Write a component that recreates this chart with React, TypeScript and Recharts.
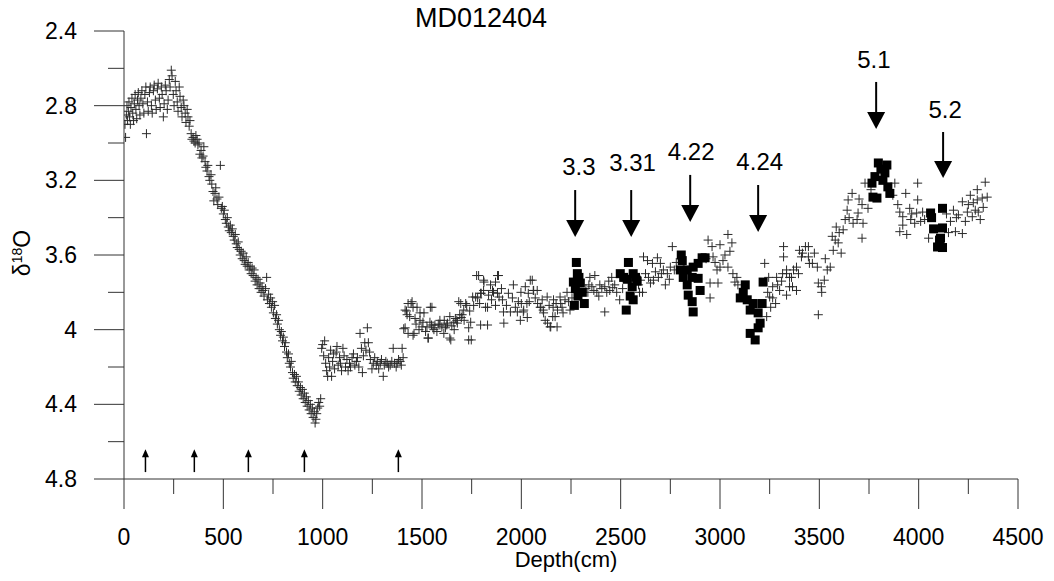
import { ScatterChart, Scatter, XAxis, YAxis, ReferenceLine } from "recharts";

// depth (cm), d18O
const crossTop = [
  [5, 2.9], [8, 2.97], [12, 2.85], [15, 2.8], [18, 2.88], [22, 2.83], [25, 2.78], [28, 2.86], [32, 2.9], [35, 2.81],
  [40, 2.76], [44, 2.84], [48, 2.88], [52, 2.79], [56, 2.74], [60, 2.82], [64, 2.87], [68, 2.77], [72, 2.73], [76, 2.8],
  [80, 2.85], [85, 2.76], [90, 2.72], [95, 2.79], [100, 2.84], [105, 2.74], [110, 2.7], [113, 2.95], [118, 2.78], [122, 2.83],
  [128, 2.73], [132, 2.7], [138, 2.8], [142, 2.84], [148, 2.72], [152, 2.69], [158, 2.77], [162, 2.82], [168, 2.71], [172, 2.68],
  [178, 2.76], [182, 2.81], [188, 2.7], [192, 2.74], [198, 2.86], [202, 2.79], [208, 2.69], [212, 2.72], [218, 2.82], [222, 2.77],
  [228, 2.66], [232, 2.7], [238, 2.61], [242, 2.64], [248, 2.74], [252, 2.8], [258, 2.67], [262, 2.72], [268, 2.78], [272, 2.83],
  [278, 2.7], [282, 2.75], [288, 2.81], [292, 2.86], [298, 2.77], [302, 2.8], [308, 2.84], [312, 2.89], [318, 2.82], [322, 2.86],
  [328, 2.91], [332, 2.88], [338, 2.95], [342, 2.98], [348, 2.97], [352, 2.99], [358, 3.0], [362, 2.96], [368, 2.98], [372, 3.01],
  [378, 3.0],
];

const crossDrop = [
  [382, 3.06], [388, 3.04], [392, 3.08], [398, 3.07], [402, 3.02], [408, 3.1], [412, 3.13], [418, 3.15], [422, 3.12], [428, 3.18],
  [432, 3.2], [438, 3.17], [442, 3.22], [448, 3.26], [452, 3.31], [458, 3.27], [462, 3.24], [468, 3.3], [472, 3.33], [478, 3.29],
  [485, 3.12], [490, 3.35], [495, 3.34], [500, 3.38], [505, 3.36], [510, 3.41], [515, 3.43], [520, 3.4], [525, 3.45], [530, 3.47],
  [535, 3.44], [540, 3.48], [545, 3.46], [550, 3.5], [555, 3.52], [560, 3.49], [565, 3.54], [570, 3.56], [575, 3.53], [580, 3.57],
  [585, 3.6], [590, 3.58], [595, 3.62], [600, 3.59], [605, 3.63], [610, 3.65], [615, 3.61], [620, 3.66], [625, 3.64], [630, 3.68],
  [635, 3.66], [640, 3.7], [645, 3.67], [650, 3.71], [655, 3.68], [660, 3.74], [665, 3.72], [670, 3.76], [675, 3.73], [680, 3.78],
  [685, 3.75], [690, 3.8], [695, 3.77], [700, 3.79], [705, 3.82], [712, 3.78], [718, 3.72], [722, 3.84], [728, 3.81], [732, 3.86],
  [738, 3.83], [742, 3.88], [748, 3.85], [752, 3.91], [758, 3.87], [762, 3.94], [768, 3.92], [772, 3.97], [778, 3.95], [782, 4.0],
  [788, 4.03], [792, 4.01], [798, 4.06], [802, 4.04], [808, 4.09], [812, 4.07], [818, 4.12], [822, 4.15], [828, 4.13], [832, 4.18],
  [838, 4.2], [842, 4.17], [848, 4.23], [852, 4.26], [858, 4.24], [862, 4.28], [868, 4.25], [872, 4.3], [878, 4.28], [882, 4.33],
  [888, 4.31], [892, 4.35], [898, 4.32], [902, 4.37], [908, 4.34], [912, 4.39], [918, 4.36], [922, 4.41], [928, 4.38], [932, 4.43],
  [938, 4.4], [942, 4.45], [948, 4.42], [952, 4.47], [958, 4.44], [962, 4.5], [966, 4.48], [970, 4.45], [975, 4.42], [980, 4.39],
  [985, 4.41], [990, 4.37],
];

const crossTrough = [
  [995, 4.1], [1000, 4.08], [1005, 4.14], [1010, 4.06], [1015, 4.18], [1020, 4.22], [1025, 4.25], [1030, 4.15], [1035, 4.2], [1040, 4.11],
  [1045, 4.25], [1050, 4.17], [1055, 4.13], [1060, 4.21], [1068, 4.12], [1072, 4.09], [1078, 4.19], [1085, 4.15], [1090, 4.18], [1095, 4.22],
  [1102, 4.1], [1108, 4.14], [1115, 4.2], [1122, 4.16], [1128, 4.22], [1135, 4.18], [1140, 4.2], [1148, 4.15], [1155, 4.13], [1162, 4.19],
  [1170, 4.17], [1175, 4.15], [1182, 4.2], [1188, 4.02], [1195, 4.1], [1200, 4.23], [1205, 4.14], [1212, 4.07], [1218, 4.11], [1225, 3.99],
  [1230, 4.07], [1236, 4.12], [1240, 4.16], [1248, 4.21], [1255, 4.18], [1262, 4.15], [1270, 4.19], [1275, 4.17], [1282, 4.21], [1290, 4.18],
  [1296, 4.16], [1305, 4.25], [1310, 4.19], [1318, 4.17], [1325, 4.18], [1332, 4.2], [1340, 4.19], [1348, 4.17], [1355, 4.1], [1362, 4.18],
  [1370, 4.2], [1375, 4.18], [1382, 4.16], [1390, 4.17], [1396, 4.19], [1400, 4.1], [1405, 4.15],
];

const crossMid = [
  [1415, 3.895], [1425, 3.92], [1430, 3.86], [1450, 3.85], [1455, 3.88], [1415, 3.99], [1430, 4.02], [1455, 4.03], [1475, 3.88], [1490, 3.91],
  [1465, 3.94], [1500, 3.985], [1525, 3.985], [1530, 4.045], [1550, 3.88], [1540, 3.96], [1565, 3.975], [1575, 4.01], [1590, 3.95], [1600, 3.985],
  [1610, 4.02], [1625, 3.975], [1640, 4.045], [1640, 3.93], [1660, 3.96], [1675, 3.95], [1685, 3.85], [1690, 3.92], [1710, 3.895], [1720, 3.86],
  [1735, 4.055], [1745, 3.96], [1755, 3.825], [1780, 3.83], [1795, 3.805], [1795, 3.975], [1810, 3.79], [1830, 3.88], [1810, 3.735], [1835, 3.815],
  [1855, 3.79], [1870, 3.745], [1880, 3.805], [1885, 3.71], [1785, 3.71],
  [1422, 3.9], [1438, 3.93], [1408, 3.995], [1460, 4.02], [1445, 3.86], [1490, 3.95], [1510, 3.91], [1542, 3.88], [1548, 3.975], [1560, 4.0],
  [1532, 4.045], [1590, 3.975], [1612, 3.95], [1628, 3.965], [1645, 4.055], [1662, 4.0], [1678, 3.965], [1695, 3.86], [1712, 3.95], [1698, 3.935],
  [1725, 3.87], [1735, 3.99], [1748, 4.055], [1770, 3.825], [1775, 3.71], [1798, 3.805], [1812, 3.745], [1820, 3.88], [1830, 3.975], [1845, 3.76],
  [1860, 3.8], [1880, 3.71], [1888, 3.825], [1905, 3.84], [1910, 3.905], [1912, 3.965], [1935, 3.805], [1945, 3.905], [1960, 3.76], [1980, 3.905],
  [1985, 3.85], [1995, 3.95], [2010, 3.905], [2030, 3.935], [2035, 3.805], [2055, 3.735], [2060, 3.79], [2080, 3.79], [2095, 3.88], [2110, 3.895],
  [2120, 3.95], [2130, 3.825], [2145, 3.985], [2160, 3.88], [2170, 3.93], [2180, 3.985], [2195, 3.825],
  [1998, 3.8], [2020, 3.77], [2045, 3.735], [2062, 3.79], [2012, 3.895], [2028, 3.86], [2082, 3.86], [2098, 3.88], [2112, 3.91], [2132, 3.965],
  [2148, 3.985], [2162, 3.84], [2182, 3.895], [2158, 3.93], [2198, 3.86], [2220, 3.84], [2230, 3.8], [2245, 3.895], [2210, 3.91],
  [1470, 3.97], [1485, 4.0], [1505, 3.96], [1518, 4.01], [1555, 3.99], [1582, 3.97], [1618, 3.99], [1650, 3.98], [1668, 3.94], [1702, 3.92],
  [1740, 3.9], [1760, 3.87], [1790, 3.86], [1850, 3.84], [1870, 3.87], [1900, 3.78], [1925, 3.87], [1955, 3.83], [1970, 3.88], [2000, 3.86],
  [2040, 3.85], [2070, 3.83], [2105, 3.84], [2140, 3.87], [2175, 3.86], [2205, 3.88], [2238, 3.85],
];

const crossStage4 = [
  [2255, 3.83], [2300, 3.8], [2325, 3.78], [2335, 3.8], [2345, 3.72], [2355, 3.77], [2370, 3.71], [2380, 3.8], [2395, 3.76], [2420, 3.77],
  [2420, 3.905], [2430, 3.8], [2455, 3.72], [2460, 3.775], [2480, 3.8], [2495, 3.84], [2340, 3.76], [2365, 3.79], [2405, 3.78], [2440, 3.74],
  [2470, 3.76], [2390, 3.82], [2445, 3.79], [2510, 3.78], [2590, 3.76], [2595, 3.8],
  [2600, 3.735], [2610, 3.8], [2615, 3.61], [2625, 3.7], [2635, 3.63], [2650, 3.75], [2660, 3.645], [2665, 3.735], [2685, 3.615], [2690, 3.72],
  [2700, 3.645], [2715, 3.68], [2725, 3.76], [2735, 3.7], [2750, 3.665], [2760, 3.555], [2640, 3.72], [2675, 3.69], [2705, 3.7], [2745, 3.73],
  [2770, 3.68], [2780, 3.64],
  [2940, 3.52], [2950, 3.75], [2950, 3.83], [2960, 3.555], [2965, 3.61], [2985, 3.68], [2990, 3.75], [3000, 3.545], [3000, 3.665], [3015, 3.63],
  [3040, 3.49], [3040, 3.665], [3060, 3.535], [3065, 3.7], [3075, 3.745], [3085, 3.72], [2930, 3.62], [2975, 3.64], [3025, 3.6], [3050, 3.58],
  [3090, 3.76],
  [3225, 3.645], [3235, 3.93], [3245, 3.72], [3250, 3.825], [3255, 3.88], [3265, 3.77], [3265, 3.83], [3280, 3.86], [3285, 3.72], [3300, 3.79],
  [3320, 3.555], [3320, 3.61], [3335, 3.7], [3335, 3.815], [3350, 3.77], [3370, 3.68], [3385, 3.665], [3400, 3.575], [3415, 3.59], [3430, 3.555],
  [3445, 3.61], [3465, 3.645], [3240, 3.8], [3290, 3.76], [3310, 3.74], [3360, 3.72], [3395, 3.7],
];

const crossStage5 = [
  [3335, 3.68], [3350, 3.72], [3315, 3.7], [3365, 3.77], [3385, 3.79], [3410, 3.61], [3445, 3.555], [3450, 3.645], [3475, 3.59], [3490, 3.665],
  [3495, 3.75], [3510, 3.77], [3512, 3.8], [3525, 3.735], [3540, 3.68], [3555, 3.665], [3565, 3.5], [3570, 3.575], [3585, 3.45], [3595, 3.535],
  [3610, 3.59], [3620, 3.465], [3630, 3.41], [3640, 3.36], [3645, 3.305], [3665, 3.27], [3670, 3.43], [3690, 3.41], [3695, 3.375], [3715, 3.33],
  [3720, 3.43], [3715, 3.51], [3730, 3.215], [3745, 3.35], [3760, 3.25], [3700, 3.3], [3580, 3.52], [3600, 3.48], [3650, 3.4], [3530, 3.62],
  [3495, 3.92],
  [3880, 3.215], [3895, 3.33], [3905, 3.37], [3920, 3.395], [3935, 3.27], [3955, 3.35], [3960, 3.41], [3990, 3.375], [3995, 3.215], [3995, 3.305],
  [4010, 3.42], [3905, 3.475], [3920, 3.44], [3940, 3.49], [3980, 3.43], [4020, 3.37], [4030, 3.41], [4050, 3.51], [3870, 3.28], [3965, 3.38],
  [4160, 3.42], [4175, 3.36], [4185, 3.475], [4200, 3.385], [4220, 3.485], [4220, 3.315], [4235, 3.42], [4245, 3.37], [4260, 3.28], [4270, 3.395],
  [4275, 3.32], [4295, 3.25], [4300, 3.37], [4310, 3.41], [4320, 3.295], [4335, 3.21], [4345, 3.29], [4325, 3.345], [4295, 3.305], [4150, 3.48],
  [4140, 3.38], [4190, 3.4], [4250, 3.33], [4285, 3.36],
];

const sq33 = [[2277, 3.64], [2282, 3.7], [2262, 3.745], [2297, 3.75], [2307, 3.8], [2267, 3.87], [2317, 3.86], [2272, 3.78], [2290, 3.72], [2285, 3.82]];
const sq331 = [[2539, 3.64], [2498, 3.7], [2563, 3.7], [2533, 3.73], [2583, 3.74], [2558, 3.77], [2548, 3.82], [2563, 3.84], [2528, 3.895], [2515, 3.72], [2575, 3.72]];
const sq422 = [[2805, 3.6], [2810, 3.63], [2800, 3.68], [2835, 3.68], [2865, 3.665], [2910, 3.615], [2925, 3.615], [2890, 3.645], [2815, 3.72], [2860, 3.72], [2890, 3.725], [2835, 3.76], [2900, 3.79], [2840, 3.815], [2860, 3.85], [2865, 3.905]];
const sq424 = [[3127, 3.76], [3117, 3.8], [3102, 3.83], [3137, 3.84], [3167, 3.86], [3212, 3.86], [3152, 3.895], [3192, 3.91], [3202, 3.965], [3192, 3.99], [3152, 4.02], [3177, 4.055], [3217, 3.745]];
const sq51 = [[3797, 3.107], [3840, 3.118], [3780, 3.18], [3765, 3.215], [3820, 3.2], [3845, 3.235], [3855, 3.27], [3770, 3.29], [3790, 3.295], [3810, 3.14], [3830, 3.16]];
const sq52 = [[4060, 3.375], [4065, 3.4], [4120, 3.35], [4075, 3.46], [4120, 3.455], [4110, 3.51], [4095, 3.557], [4120, 3.56], [4105, 3.52]];

// labelled stage arrows: depth, shaft top, tip, label position
const stageNames = ["3.3", "3.31", "4.22", "4.24", "5.1", "5.2"];
const stageDepth = [2271, 2553, 2850, 3192, 3786, 4123];
const stageTop = [3.252, 3.252, 3.171, 3.225, 2.673, 2.941];
const stageTip = [3.504, 3.504, 3.423, 3.477, 2.925, 3.188];
const labelDepth = [2290, 2560, 2855, 3200, 3775, 4133];
const labelValue = [3.129, 3.107, 3.048, 3.102, 2.555, 2.823];

// small tie-point arrows at the bottom
const tieDepth = [108, 354, 626, 908, 1381];
const tieBase = 4.763;
const tieTip = 4.64;

const xTicks = [0, 250, 500, 750, 1000, 1250, 1500, 1750, 2000, 2250, 2500, 2750, 3000, 3250, 3500, 3750, 4000, 4250, 4500];
const yTicks = [2.4, 2.6, 2.8, 3.0, 3.2, 3.4, 3.6, 3.8, 4.0, 4.2, 4.4, 4.6, 4.8];

const toPts = (rows: number[][]) => rows.map(([depth, d18o]) => ({ depth, d18o }));
const crosses = toPts([...crossTop, ...crossDrop, ...crossTrough, ...crossMid, ...crossStage4, ...crossStage5]);
const squares = toPts([...sq33, ...sq331, ...sq422, ...sq424, ...sq51, ...sq52]);
const heads = stageDepth.map((d, i) => ({ depth: d, d18o: stageTip[i] }));
const labels = stageNames.map((t, i) => ({ depth: labelDepth[i], d18o: labelValue[i], text: t }));
const tieHeads = tieDepth.map((d) => ({ depth: d, d18o: tieTip }));

const AX = "#333";

const Cross = (p: any) => (
  <path d={`M${p.cx - 4.5},${p.cy}h9M${p.cx},${p.cy - 4.5}v9`} stroke="#2a2a2a" strokeWidth={1} fill="none" />
);
const Square = (p: any) => <rect x={p.cx - 4.5} y={p.cy - 4.5} width={9} height={9} fill="#000" />;
const BigHead = (p: any) => (
  <path d={`M${p.cx - 9},${p.cy - 17}L${p.cx + 9},${p.cy - 17}L${p.cx},${p.cy}Z`} fill="#000" />
);
const SmallHead = (p: any) => (
  <path d={`M${p.cx - 3.5},${p.cy + 8}L${p.cx + 3.5},${p.cy + 8}L${p.cx},${p.cy}Z`} fill="#000" />
);
const StageLabel = (p: any) => (
  <text x={p.cx} y={p.cy + 8} textAnchor="middle" fontSize={24} fill="#000">
    {p.payload?.text}
  </text>
);

const XTick = (p: any) => {
  const v = p.payload.value;
  const major = v % 500 === 0;
  return (
    <g>
      <line x1={p.x} x2={p.x} y1={p.y} y2={p.y + (major ? 30 : 15)} stroke={AX} />
      {major && (
        <text x={p.x} y={p.y + 66} textAnchor="middle" fontSize={23} fill="#000">
          {v}
        </text>
      )}
    </g>
  );
};

const YTick = (p: any) => {
  const v = p.payload.value;
  const major = Math.round(v * 10) % 4 === 0;
  return (
    <g>
      <line x1={p.x - (major ? 30 : 16)} x2={p.x} y1={p.y} y2={p.y} stroke={AX} />
      {major && (
        <text x={p.x - 47} y={p.y + 8} textAnchor="end" fontSize={23} fill="#000">
          {String(Math.round(v * 10) / 10)}
        </text>
      )}
    </g>
  );
};

export default function App() {
  return (
    <div style={{ position: "relative", width: 1038, height: 565, fontFamily: "'Liberation Sans', Arial, sans-serif" }}>
      <ScatterChart width={1038} height={565} margin={{ top: 23, right: 28, bottom: 34, left: 1 }}>
        <XAxis
          type="number"
          dataKey="depth"
          domain={[0, 4500]}
          ticks={xTicks}
          interval={0}
          tick={XTick}
          tickLine={false}
          tickSize={0}
          tickMargin={0}
          axisLine={{ stroke: AX }}
          height={60}
          allowDataOverflow
        />
        <YAxis
          type="number"
          dataKey="d18o"
          domain={[2.4, 4.8]}
          reversed
          ticks={yTicks}
          interval={0}
          tick={YTick}
          tickLine={false}
          tickSize={0}
          tickMargin={0}
          axisLine={{ stroke: AX }}
          width={115}
          allowDataOverflow
        />
        <Scatter data={crosses} shape={Cross} isAnimationActive={false} />
        <Scatter data={squares} shape={Square} isAnimationActive={false} />
        {stageDepth.map((d, i) => (
          <ReferenceLine
            key={"s" + i}
            segment={[{ x: d, y: stageTop[i] }, { x: d, y: stageTip[i] - 0.05 }]}
            stroke="#000"
            strokeWidth={2}
          />
        ))}
        {tieDepth.map((d, i) => (
          <ReferenceLine
            key={"t" + i}
            segment={[{ x: d, y: tieBase }, { x: d, y: tieTip + 0.02 }]}
            stroke="#000"
            strokeWidth={1.5}
          />
        ))}
        <Scatter data={heads} shape={BigHead} isAnimationActive={false} />
        <Scatter data={tieHeads} shape={SmallHead} isAnimationActive={false} />
        <Scatter data={labels} shape={StageLabel} isAnimationActive={false} />
      </ScatterChart>
      <div style={{ position: "absolute", left: 473, top: 10, transform: "translate(-50%,-50%)", fontSize: 27, lineHeight: 1, whiteSpace: "nowrap" }}>
        MD012404
      </div>
      <div style={{ position: "absolute", left: 558, top: 552, transform: "translate(-50%,-50%)", fontSize: 22, lineHeight: 1, whiteSpace: "nowrap" }}>
        Depth(cm)
      </div>
      <div style={{ position: "absolute", left: 14, top: 245, transform: "translate(-50%,-50%) rotate(-90deg)", fontSize: 23, lineHeight: 1, whiteSpace: "nowrap" }}>
        δ<span style={{ fontSize: 14, position: "relative", top: -8 }}>18</span>O
      </div>
    </div>
  );
}
